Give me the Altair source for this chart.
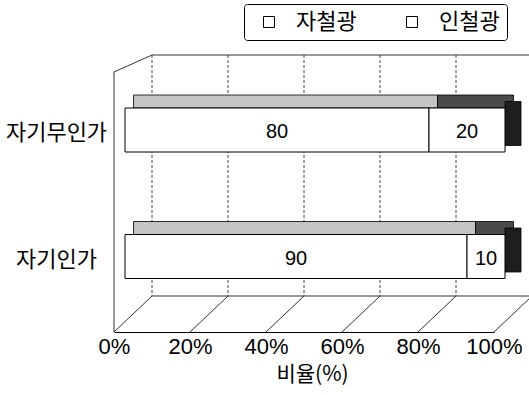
import altair as alt
import pandas as pd

categories = ["자기무인가", "자기인가"]
series = ["자철광", "인철광"]
magnetite = [80, 90]
ilmenite = [20, 10]
tick_values = [0, 20, 40, 60, 80, 100]

rows = []
for c, m, i in zip(categories, magnetite, ilmenite):
    rows.append({"cat": c, "series": series[0], "value": m, "x0": 0, "x1": m})
    rows.append({"cat": c, "series": series[1], "value": i, "x0": m, "x1": m + i})
df = pd.DataFrame(rows)
df["mid"] = (df["x0"] + df["x1"]) / 2
df_end = df[df["series"] == series[1]]

grid = pd.DataFrame({"pct": tick_values[:-1]})
floor = pd.DataFrame({"pct": tick_values})
one = pd.DataFrame({"a": [0]})

KFONT = "Noto Sans CJK KR"
NFONT = "Liberation Sans, Noto Sans CJK KR"

xscale = alt.Scale(domain=[0, 100], nice=False, zero=True)
yscale = alt.Scale(domain=categories, range=[11.75, 264.75], paddingInner=0, paddingOuter=0)

X = alt.X("x0:Q", scale=xscale,
          axis=alt.Axis(values=tick_values, labelExpr="datum.value + '%'", ticks=False,
                        grid=False, domain=True, domainColor="black", domainWidth=1,
                        labelFlush=False, labelOverlap=False,
                        labelFont=NFONT, labelFontSize=22, labelColor="black", labelPadding=4,
                        title="비율(%)", titleFont=KFONT, titleFontSize=21,
                        titleFontWeight="normal", titleColor="black", titleX=198, titlePadding=6))
Y = alt.Y("cat:N", scale=yscale,
          axis=alt.Axis(title=None, ticks=False, domain=False, labelAlign="center",
                        labelPadding=58, labelOffset=3, labelFont=KFONT, labelFontSize=22,
                        labelColor="black"))

dash = [3, 2]
back_grid = alt.Chart(grid).mark_rule(xOffset=38, color="#444", strokeWidth=1, strokeDash=dash).encode(
    x=alt.X("pct:Q", scale=xscale), y=alt.value(0), y2=alt.value(241))
floor_diag = alt.Chart(floor).mark_rule(x2Offset=38, color="#333", strokeWidth=1).encode(
    x=alt.X("pct:Q", scale=xscale), x2="pct:Q", y=alt.value(277), y2=alt.value(241))
back_floor = alt.Chart(one).mark_rule(xOffset=38, x2Offset=38, color="#333", strokeWidth=1).encode(
    x=alt.datum(0, scale=xscale), x2=alt.datum(100), y=alt.value(241))
back_top = alt.Chart(one).mark_rule(xOffset=38, x2Offset=38, color="#333", strokeWidth=1).encode(
    x=alt.datum(0, scale=xscale), x2=alt.datum(100), y=alt.value(0))
left_wall = alt.Chart(one).mark_rule(color="#333", strokeWidth=1).encode(
    x=alt.datum(0, scale=xscale), y=alt.value(17), y2=alt.value(277))
left_diag = alt.Chart(one).mark_rule(x2Offset=38, color="#333", strokeWidth=1).encode(
    x=alt.datum(0, scale=xscale), x2=alt.datum(0), y=alt.value(17), y2=alt.value(0))

top_face = alt.Chart(df).mark_bar(size=13, yOffset=-28.5, xOffset=19.5, x2Offset=19.5,
                                  stroke="black", strokeWidth=0.8).encode(
    x=alt.X("x0:Q", scale=xscale), x2="x1:Q", y=alt.Y("cat:N", scale=yscale),
    fill=alt.condition(alt.datum.series == series[0], alt.value("#c4c4c4"), alt.value("#4a4a4a")))
side_face = alt.Chart(df_end).mark_bar(size=44, yOffset=-6.5, xOffset=11, x2Offset=27,
                                       fill="#1e1e1e", stroke="black", strokeWidth=0.8).encode(
    x=alt.X("x1:Q", scale=xscale), x2="x1:Q", y=alt.Y("cat:N", scale=yscale))

front = alt.Chart(df).mark_bar(size=44, xOffset=11, x2Offset=11, stroke="black", strokeWidth=1).encode(
    x=X, x2="x1:Q", y=Y,
    color=alt.Color("series:N", scale=alt.Scale(domain=series, range=["white", "white"]),
                    legend=alt.Legend(title=None, orient="none", legendX=130, legendY=-51,
                                      direction="horizontal", symbolType="square", symbolSize=120,
                                      symbolStrokeColor="black", symbolStrokeWidth=1,
                                      symbolFillColor="white", symbolOffset=7, labelOffset=16,
                                      columnPadding=37, labelFont=KFONT, labelFontSize=22,
                                      labelColor="black", padding=7, strokeColor="black",
                                      fillColor="white", cornerRadius=3)))

labels = alt.Chart(df).mark_text(dx=11, dy=2, font=NFONT, fontSize=20, color="black",
                                 baseline="middle").encode(
    x=alt.X("mid:Q", scale=xscale), y=alt.Y("cat:N", scale=yscale), text="value:Q")

chart = alt.layer(back_grid, floor_diag, back_floor, back_top, left_wall, left_diag,
                  top_face, side_face, front, labels).properties(
    width=380, height=277,
    autosize=alt.AutoSizeParams(type="none"),
    padding={"left": 114, "top": 55, "right": 35, "bottom": 63},
    background="white",
).configure_view(stroke=None)

chart.save("out.html", embed_options={"renderer": "svg", "actions": False})
